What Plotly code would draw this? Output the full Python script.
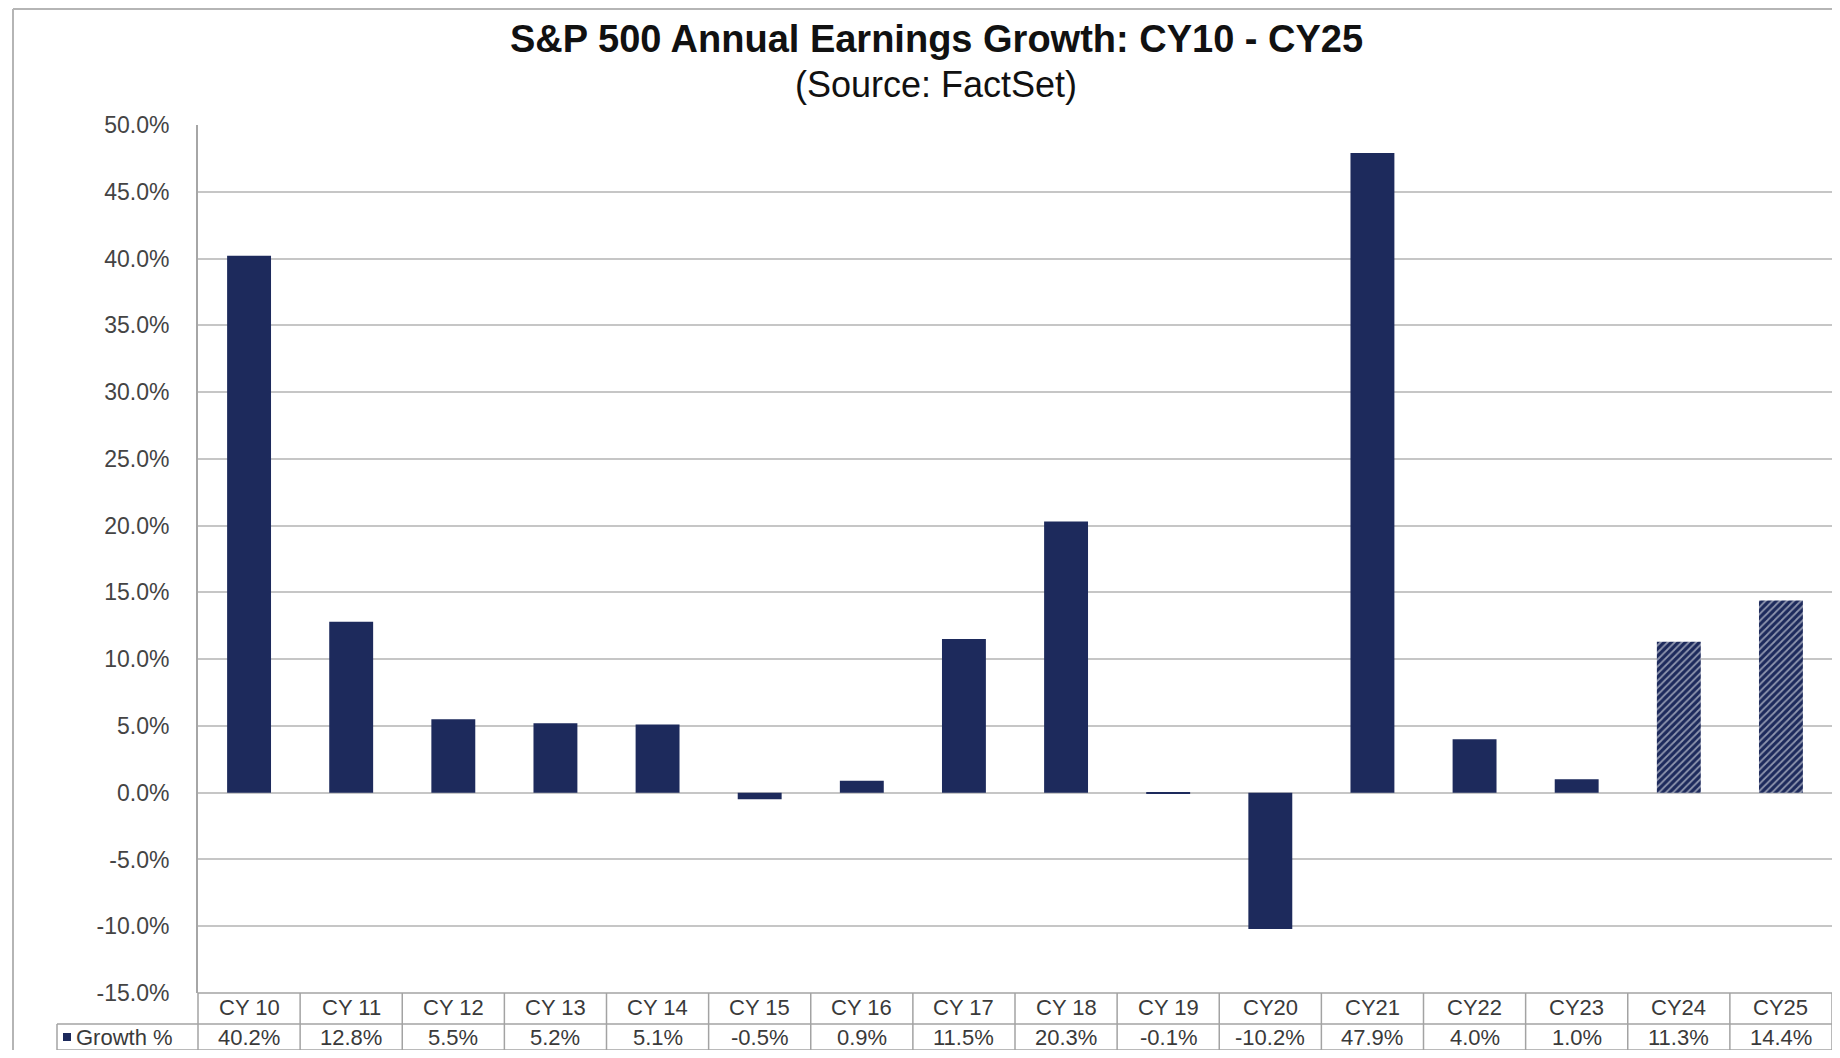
import plotly.graph_objects as go

categories = ["CY 10", "CY 11", "CY 12", "CY 13", "CY 14", "CY 15", "CY 16", "CY 17",
              "CY 18", "CY 19", "CY20", "CY21", "CY22", "CY23", "CY24", "CY25"]
growth = [40.2, 12.8, 5.5, 5.2, 5.1, -0.5, 0.9, 11.5, 20.3, -0.1, -10.2, 47.9, 4.0, 1.0, 11.3, 14.4]
estimated = [False] * 14 + [True, True]
series_name = "Growth %"
title_text = "S&P 500 Annual Earnings Growth: CY10 - CY25"
subtitle_text = "(Source: FactSet)"
y_ticks = list(range(-15, 55, 5))

# page body has an 8px margin; work in screenshot pixels and convert
OFF = 8
W, H = 1840 - 2 * OFF, 1058 - 2 * OFF
PLOT_L, PLOT_R, PLOT_T, PLOT_B = 198, 1832, 125, 993  # screenshot pixels
L, R, T, B = PLOT_L - OFF, (W + OFF) - PLOT_R, PLOT_T - OFF, (H + OFF) - PLOT_B
PW, PH = W - L - R, H - T - B
NAVY = "#1d2a5c"
FONT = "Liberation Sans, Arial, sans-serif"
TXT = "#3a3a3a"


def px2x(px):
    return (px - PLOT_L) / PW


def px2y(py):
    return (PLOT_B - py) / PH


fig = go.Figure()
fig.add_trace(go.Bar(
    x=categories,
    y=growth,
    name=series_name,
    marker=dict(
        color=[NAVY] * len(growth),
        line=dict(width=0),
        pattern=dict(
            shape=["/" if e else "" for e in estimated],
            fgcolor="#2b3868",
            bgcolor="#dfe2ea",
            size=5,
            solidity=0.35,
        ),
    ),
    width=0.43,
    showlegend=False,
))

shapes = []
line_col = "#a3a3a3"
n = len(categories)
shapes.append(dict(type="line", xref="paper", yref="paper", x0=0, x1=1, y0=0, y1=0,
                   line=dict(color=line_col, width=1.5)))
for py in (1024, 1050):
    shapes.append(dict(type="line", xref="paper", yref="paper", x0=px2x(57), x1=1,
                       y0=px2y(py), y1=px2y(py), line=dict(color=line_col, width=1.5)))
for i in range(n + 1):
    shapes.append(dict(type="line", xref="paper", yref="paper", x0=i / n, x1=i / n,
                       y0=0, y1=px2y(1050), line=dict(color=line_col, width=1.5)))
shapes.append(dict(type="line", xref="paper", yref="paper", x0=px2x(57), x1=px2x(57),
                   y0=px2y(1024), y1=px2y(1050), line=dict(color=line_col, width=1.5)))
shapes.append(dict(type="rect", xref="paper", yref="paper", x0=px2x(63), x1=px2x(71),
                   y0=px2y(1041), y1=px2y(1033), fillcolor=NAVY, line=dict(width=0)))
# outer frame
shapes.append(dict(type="line", xref="paper", yref="paper", x0=px2x(13), x1=px2x(13),
                   y0=px2y(9), y1=px2y(1052), line=dict(color="#b5b5b5", width=2)))
shapes.append(dict(type="line", xref="paper", yref="paper", x0=px2x(13), x1=px2x(1832),
                   y0=px2y(9), y1=px2y(9), line=dict(color="#b5b5b5", width=2)))

annotations = []
for c, v in zip(categories, growth):
    annotations.append(dict(x=c, xref="x", y=px2y(1007), yref="paper", text=c,
                            showarrow=False, font=dict(family=FONT, size=22, color=TXT),
                            xanchor="center", yanchor="middle"))
    annotations.append(dict(x=c, xref="x", y=px2y(1037), yref="paper", text=f"{v:.1f}%",
                            showarrow=False, font=dict(family=FONT, size=22, color=TXT),
                            xanchor="center", yanchor="middle"))
annotations.append(dict(x=px2x(74), xref="paper", y=px2y(1037), yref="paper", text=series_name,
                        showarrow=False, font=dict(family=FONT, size=22, color=TXT),
                        xanchor="left", yanchor="middle"))
annotations.append(dict(x=px2x(936), xref="paper", y=px2y(39), yref="paper", text=f"<b>{title_text}</b>",
                        showarrow=False, font=dict(family=FONT, size=38, color="#111111"),
                        xanchor="center", yanchor="middle"))
annotations.append(dict(x=px2x(936), xref="paper", y=px2y(85), yref="paper", text=subtitle_text,
                        showarrow=False, font=dict(family=FONT, size=36, color="#111111"),
                        xanchor="center", yanchor="middle"))

fig.update_layout(
    width=W, height=H,
    margin=dict(l=L, r=R, t=T, b=B, pad=0, autoexpand=False),
    paper_bgcolor="white", plot_bgcolor="white",
    xaxis=dict(range=[-0.5, n - 0.5], showticklabels=False, showgrid=False, zeroline=False,
               showline=False, ticks=""),
    yaxis=dict(range=[-15, 50], tickvals=y_ticks, ticktext=[f"{v:.1f}%" for v in y_ticks],
               showgrid=True, gridcolor="#c6c6c6", gridwidth=2, zeroline=True,
               zerolinecolor="#c6c6c6", zerolinewidth=2, showline=True, linecolor="#a6a6a6",
               linewidth=2, ticks="", ticklabelstandoff=22,
               tickfont=dict(family=FONT, size=23, color="#444444")),
    shapes=shapes,
    annotations=annotations,
)

fig.write_html("out.html")
